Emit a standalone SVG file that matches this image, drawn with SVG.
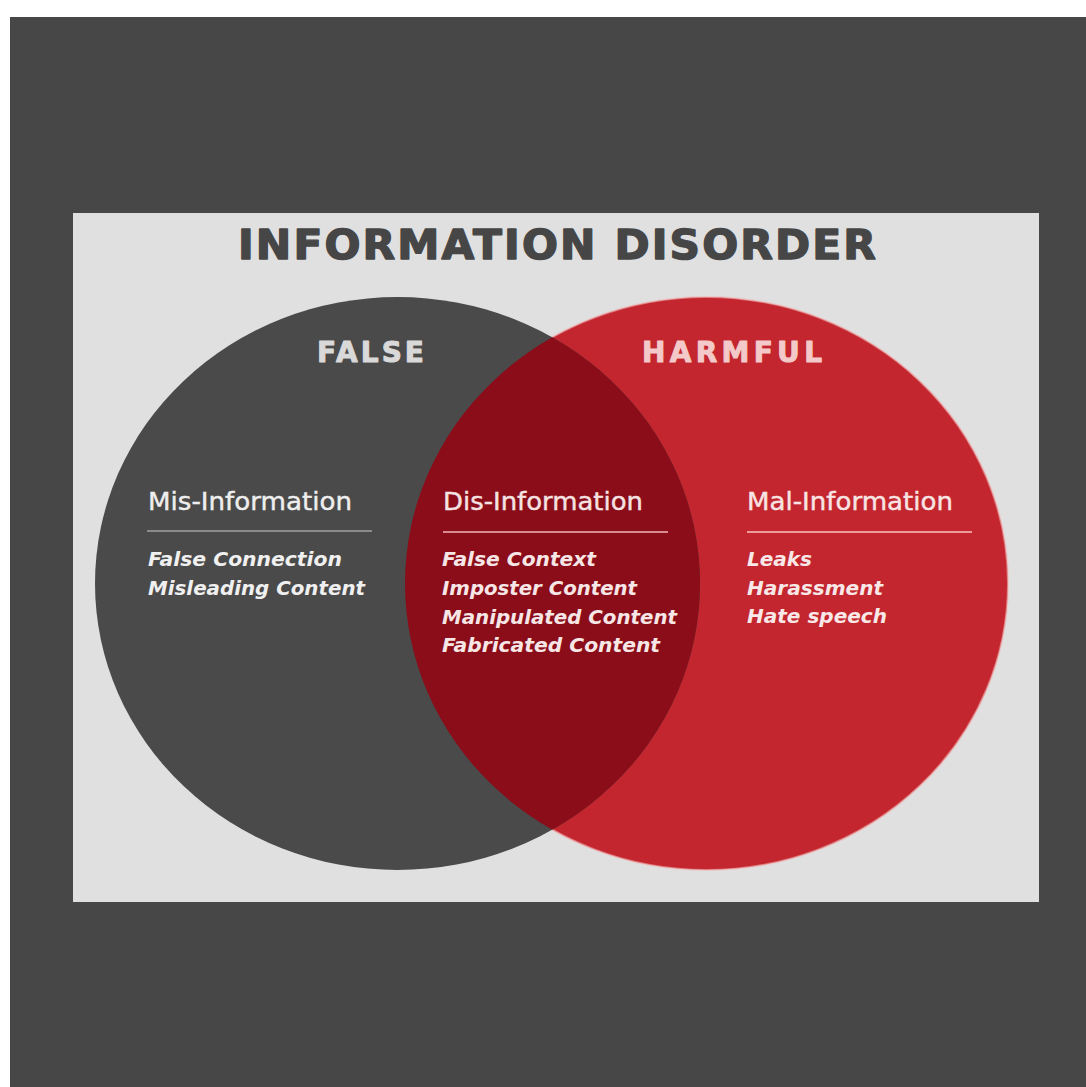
<svg xmlns="http://www.w3.org/2000/svg" width="1086" height="1087" viewBox="0 0 1086 1087">
  <style>
    .title { font-family: "DejaVu Sans", "Liberation Sans", sans-serif; font-weight: bold; font-size: 40px; fill: #464646; stroke: #464646; stroke-width: 1.4px; stroke-linejoin: round; }
    .cat { font-family: "DejaVu Sans", "Liberation Sans", sans-serif; font-weight: bold; font-size: 28px; stroke-width: 1px; stroke-linejoin: round; }
    .sub { font-family: "DejaVu Sans", "Liberation Sans", sans-serif; font-size: 25px; stroke-width: 0.4px; }
    .item { font-family: "DejaVu Sans", "Liberation Sans", sans-serif; font-style: italic; font-weight: bold; font-size: 20px; }
    .rule { stroke-width: 2; }
  </style>
  <defs>
    <clipPath id="clipFalse">
      <ellipse cx="397.5" cy="583.5" rx="302.5" ry="286.5"/>
    </clipPath>
  </defs>

  <g id="background">
    <rect x="0" y="0" width="1086" height="1087" fill="#ffffff"/>
    <rect x="10" y="17" width="1076" height="1070" fill="#474747"/>
    <rect x="73" y="213" width="966" height="689" fill="#e0e0e0"/>
  </g>

  <g id="title">
    <text class="title" x="238" y="259" textLength="640" lengthAdjust="spacingAndGlyphs" letter-spacing="2">INFORMATION DISORDER</text>
  </g>

  <g id="node-harmful">
    <ellipse cx="706.5" cy="583.5" rx="301.5" ry="286.5" fill="#c3262e" stroke="#f2b5b5" stroke-opacity="0.6" stroke-width="2"/>
  </g>

  <g id="node-false">
    <ellipse cx="397.5" cy="583.5" rx="302.5" ry="286.5" fill="#4a4a4a"/>
  </g>

  <g id="node-overlap">
    <ellipse cx="706.5" cy="583.5" rx="301.5" ry="286.5" fill="#8a0d19" clip-path="url(#clipFalse)"/>
  </g>

  <g id="connectors"></g>

  <g id="label-false">
    <text class="cat" x="317" y="362" fill="#d9d9d9" stroke="#d9d9d9" textLength="107" lengthAdjust="spacing">FALSE</text>
  </g>
  <g id="label-harmful">
    <text class="cat" x="642" y="362" fill="#f3c9c9" stroke="#f3c9c9" textLength="180" lengthAdjust="spacing">HARMFUL</text>
  </g>

  <g id="mis-information">
    <text class="sub" x="148" y="510" fill="#eeeeee" stroke="#eeeeee" textLength="204" lengthAdjust="spacingAndGlyphs">Mis-Information</text>
    <line class="rule" x1="147" y1="531" x2="372" y2="531" stroke="#8a8a8a"/>
    <text class="item" x="148" y="566" fill="#f0f0f0" textLength="194" lengthAdjust="spacingAndGlyphs">False Connection</text>
    <text class="item" x="148" y="595" fill="#f0f0f0" textLength="217" lengthAdjust="spacingAndGlyphs">Misleading Content</text>
  </g>

  <g id="dis-information">
    <text class="sub" x="443" y="510" fill="#f5e2e2" stroke="#f5e2e2" textLength="200" lengthAdjust="spacingAndGlyphs">Dis-Information</text>
    <line class="rule" x1="443" y1="532" x2="668" y2="532" stroke="#d98a8e"/>
    <text class="item" x="442" y="566" fill="#f7e6e6" textLength="154" lengthAdjust="spacingAndGlyphs">False Context</text>
    <text class="item" x="442" y="595" fill="#f7e6e6" textLength="195" lengthAdjust="spacingAndGlyphs">Imposter Content</text>
    <text class="item" x="442" y="624" fill="#f7e6e6" textLength="235" lengthAdjust="spacingAndGlyphs">Manipulated Content</text>
    <text class="item" x="442" y="652" fill="#f7e6e6" textLength="218" lengthAdjust="spacingAndGlyphs">Fabricated Content</text>
  </g>

  <g id="mal-information">
    <text class="sub" x="747" y="510" fill="#f8e4e4" stroke="#f8e4e4" textLength="206" lengthAdjust="spacingAndGlyphs">Mal-Information</text>
    <line class="rule" x1="747" y1="532" x2="972" y2="532" stroke="#ec9a9c"/>
    <text class="item" x="747" y="566" fill="#f9e8e8" textLength="65" lengthAdjust="spacingAndGlyphs">Leaks</text>
    <text class="item" x="747" y="595" fill="#f9e8e8" textLength="136" lengthAdjust="spacingAndGlyphs">Harassment</text>
    <text class="item" x="747" y="623" fill="#f9e8e8" textLength="140" lengthAdjust="spacingAndGlyphs">Hate speech</text>
  </g>
</svg>
